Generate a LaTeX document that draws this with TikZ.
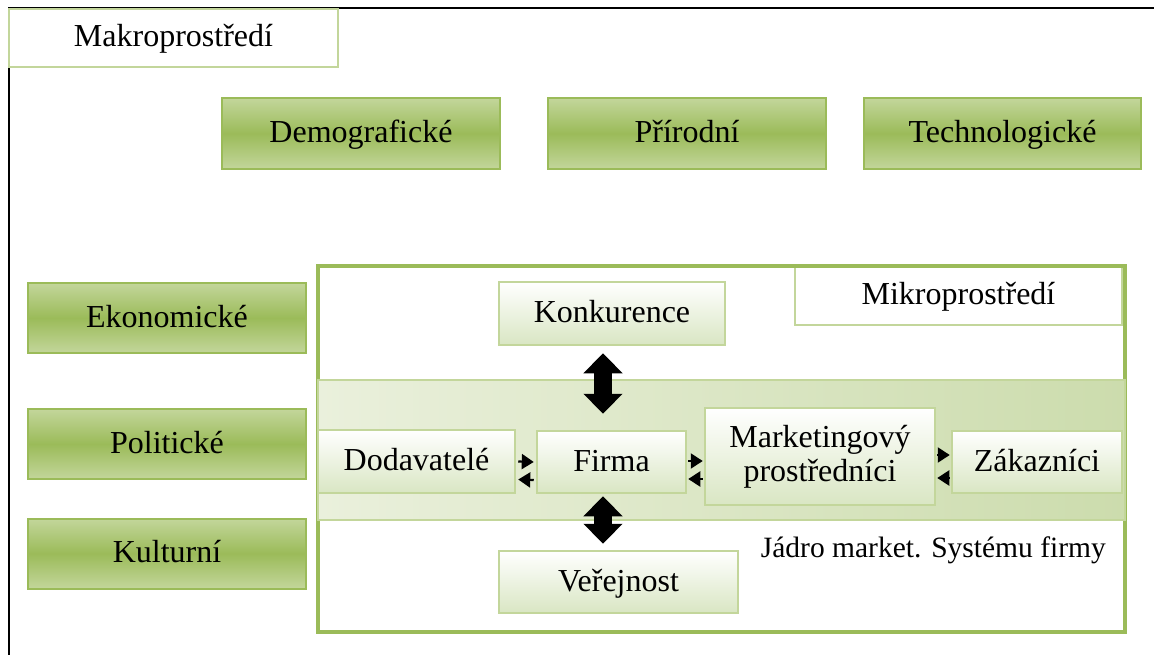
\documentclass[tikz,border=0pt]{standalone}
\usepackage{fontspec}
\setmainfont{Liberation Serif}
\usetikzlibrary{arrows.meta,calc}
\definecolor{grDark}{HTML}{9BBB59}
\definecolor{grLight}{HTML}{C3D69B}
\definecolor{grPale}{HTML}{D9E6C3}
\definecolor{bandA}{HTML}{EAF0DC}
\definecolor{bandB}{HTML}{CCDCAD}
\tikzset{
  lbl/.style={font=\fontsize{32}{36}\selectfont},
  oneline/.style={text height=25pt, text depth=7pt},
  factor/.style={lbl, oneline, draw=grDark, line width=2pt, inner sep=0pt,
    top color=grLight, bottom color=grLight, middle color=grDark},
  core/.style={lbl, draw=grLight, line width=2.5pt, inner sep=0pt,
    top color=white, bottom color=grPale, align=center},
  title/.style={lbl, oneline, draw=grLight, line width=2.5pt, fill=white, inner sep=0pt},
  bigarr/.style={line width=18pt, {Triangle[length=20pt,width=38pt]}-{Triangle[length=20pt,width=38pt]}},
  smallarr/.style={line width=2.2pt, -{Triangle[length=12pt,width=15pt]}}
}
\begin{document}
\begin{tikzpicture}[x=1pt,y=-1pt]
\useasboundingbox (0,0) rectangle (1154,655);
% outer black frame of the macro environment
\draw[line width=2pt] (9,8) rectangle (1170,670);
\node[title, minimum width=329pt, minimum height=58pt] (makro) at (173.5,38) {Makroprostředí};

% macro environment factors
\node[factor, minimum width=278pt, minimum height=71pt] (demo) at (361,133.5) {Demografické};
\node[factor, minimum width=278pt, minimum height=71pt] (prir) at (687,133.5) {Přírodní};
\node[factor, minimum width=277pt, minimum height=71pt] (tech) at (1002.5,133.5) {Technologické};
\node[factor, minimum width=278pt, minimum height=70pt] (eko) at (167,318) {Ekonomické};
\node[factor, minimum width=278pt, minimum height=70pt] (pol) at (167,444) {Politické};
\node[factor, minimum width=278pt, minimum height=70pt] (kul) at (167,553.5) {Kulturní};

% micro environment
\node[title, minimum width=327pt, minimum height=59pt] (mikro) at (958.5,295.5) {Mikroprostředí};
\draw[draw=grDark, line width=4pt] (318,266) rectangle (1125,632);
\fill[left color=bandA, right color=bandB] (318,380) rectangle (1125,520);
\draw[draw=grLight, line width=1.2pt] (318,380) rectangle (1125,520);

\node[core, oneline, minimum width=226pt, minimum height=63pt] (konk) at (612,313.5) {Konkurence};
\node[core, oneline, minimum width=197pt, minimum height=63pt] (dod) at (416.5,461.5) {Dodavatelé};
\node[core, oneline, minimum width=149pt, minimum height=62pt] (firma) at (611.5,462) {Firma};
\node[core, minimum width=230pt, minimum height=97pt] (mkt) at (820,456.5) {Marketingový\\[-2pt]prostředníci};
\node[core, oneline, minimum width=170pt, minimum height=62pt] (zak) at (1037,462) {Zákazníci};
\node[core, oneline, minimum width=239pt, minimum height=62pt] (ver) at (618.5,582) {Veřejnost};
\node[font=\fontsize{29.5}{33}\selectfont, anchor=east, inner sep=0pt] (jadro) at (1106,550) {Jádro market. Systému firmy};

% relations
\draw[bigarr] ($(konk.south)+(-9,7)$) -- ($(firma.north)+(-8.5,-16)$);
\draw[bigarr] ($(firma.south)+(-8.5,2)$) -- ($(ver.north)+(-15.5,-6)$);
\draw[smallarr] ($(dod.east)+(2,0)$) -- ($(firma.west)+(-2,0)$);
\draw[smallarr] ($(firma.west)+(-2,18)$) -- ($(dod.east)+(2,18)$);
\draw[smallarr] ($(firma.east)+(1,-1)$) -- ($(mkt.west |- firma.east)+(-1,-1)$);
\draw[smallarr] ($(mkt.west |- firma.east)+(-1,17)$) -- ($(firma.east)+(1,17)$);
\draw[smallarr] ($(mkt.east |- zak.west)+(1,-7)$) -- ($(zak.west)+(-1,-7)$);
\draw[smallarr] ($(zak.west)+(-1,16)$) -- ($(mkt.east |- zak.west)+(1,16)$);
\end{tikzpicture}
\end{document}
